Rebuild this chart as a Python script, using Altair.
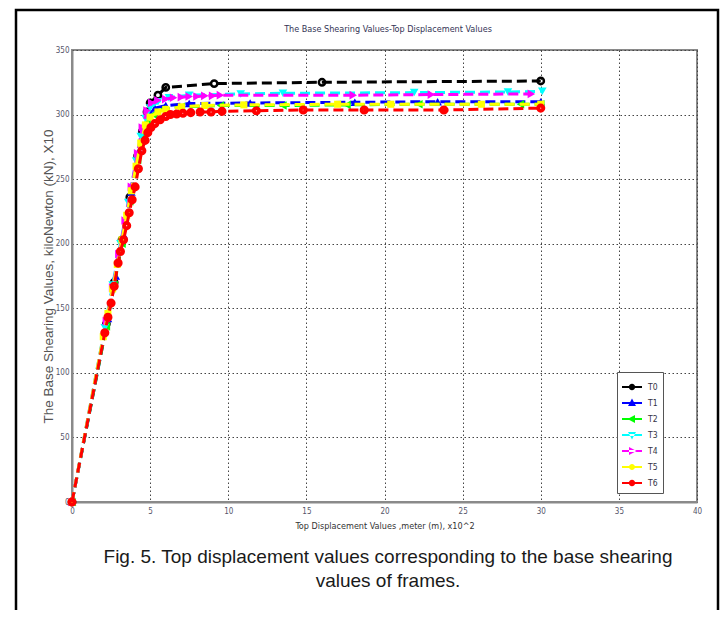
import altair as alt
import pandas as pd

# ---------------- data ----------------
series_names = ["T0", "T1", "T2", "T3", "T4", "T5", "T6"]
series_colors = ["#000000", "#0000ff", "#00ff00", "#00ffff", "#ff00ff", "#ffff00", "#ff0000"]

t0_x = [0, 2.2, 2.7, 3.2, 3.7, 4.2, 4.5, 4.8, 5.0, 5.5, 6.0, 9.1, 16.0, 30.0]
t0_y = [0, 138, 170, 203, 236, 268, 287, 302, 309, 315, 321, 324, 325, 326]

t1_x = [0, 2.3, 2.8, 3.3, 3.8, 4.3, 4.6, 4.9, 5.3, 6.0, 7.5, 11.4, 18.1, 23.4, 30.0]
t1_y = [0, 142, 175, 207, 240, 272, 290, 300, 305, 307, 308.5, 309, 309.5, 310, 310]

t2_x = [0, 2.2, 2.7, 3.2, 3.7, 4.2, 4.5, 4.8, 5.2, 5.8, 7.0, 9.5, 13.5, 17.6, 22.2, 28.7, 30.0]
t2_y = [0, 136, 168, 200, 233, 265, 283, 294, 300, 304, 306, 307, 307, 307.5, 308, 308, 308]

t3_x = [0, 2.1, 2.6, 3.1, 3.6, 4.1, 4.4, 4.7, 5.0, 5.5, 6.2, 7.5, 10.8, 13.5, 21.9, 27.9, 30.1]
t3_y = [0, 135, 168, 200, 232, 264, 283, 297, 305, 310, 313, 315, 316, 316.5, 317, 317.5, 318]

t4_x = [0, 2.2, 2.6, 3.0, 3.4, 3.8, 4.2, 4.5, 4.8, 5.1, 5.5, 6.0, 6.5, 7.0, 7.5, 8.0, 8.5, 9.0, 9.5, 18.0, 23.0, 29.4]
t4_y = [0, 140, 166, 192, 218, 244, 270, 290, 303, 309, 311, 312, 313, 313.5, 314, 314, 314.5, 314.5, 315, 315, 315.5, 316]

t5_x = [0, 2.0, 2.3, 2.6, 2.9, 3.2, 3.5, 3.8, 4.1, 4.4, 4.7, 5.0, 5.5, 6.0, 7.0, 8.5, 11.0, 17.0, 20.4, 26.2, 30.0]
t5_y = [0, 128, 146, 165, 184, 203, 222, 241, 260, 278, 292, 298, 302, 304, 306, 307, 307.5, 308, 308, 308, 308]

t6_x = [0, 2.1, 2.3, 2.5, 2.7, 2.95, 3.1, 3.3, 3.5, 3.66, 3.85, 4.04, 4.25, 4.47, 4.68, 4.85,
        5.05, 5.3, 5.64, 6.0, 6.3, 6.7, 7.1, 7.6, 8.2, 8.9, 9.6, 11.8, 14.8, 18.7, 23.8, 30.0]
t6_y = [0, 131, 143, 154, 167, 185, 194, 203, 214, 224, 234, 244, 258, 272, 280, 286,
        290, 293, 296, 298.5, 300, 300.5, 301, 301.5, 302, 302, 302.5, 303, 303.5, 303.5, 303.5, 305]

x_ticks = [0, 5, 10, 15, 20, 25, 30, 35, 40]
y_ticks = [0, 50, 100, 150, 200, 250, 300, 350]

title_text = "The Base Shearing Values-Top Displacement Values"
x_title = "Top Displacement Values ,meter (m), x10^2"
y_title = "The Base Shearing Values, kiloNewton (kN), X10"
caption_lines = [
    "Fig. 5. Top displacement values corresponding to the base shearing",
    "values of frames.",
]

all_x = [t0_x, t1_x, t2_x, t3_x, t4_x, t5_x, t6_x]
all_y = [t0_y, t1_y, t2_y, t3_y, t4_y, t5_y, t6_y]

rows = []
for name, xs, ys in zip(series_names, all_x, all_y):
    for i, (xv, yv) in enumerate(zip(xs, ys)):
        rows.append({"series": name, "x": xv, "y": yv, "idx": i})
df = pd.DataFrame(rows)
first_df = df[df["idx"] == 0].reset_index(drop=True)
one_row = pd.DataFrame({"k": [0]})

# ---------------- styles ----------------
NARROW = "Liberation Sans Narrow, DejaVu Sans Condensed, Arial Narrow, sans-serif"
SANS = "Liberation Sans, Arial, sans-serif"

marker_styles = {
    "T0": dict(shape="circle", filled=False, size=40, strokeWidth=2.5),
    "T1": dict(shape="triangle-up", filled=True, size=75),
    "T2": dict(shape="triangle-left", filled=True, size=75),
    "T3": dict(shape="triangle-down", filled=True, size=75),
    "T4": dict(shape="triangle-right", filled=True, size=75),
    "T5": dict(shape="square", filled=True, size=50),
    "T6": dict(shape="circle", filled=False, size=26, strokeWidth=4),
}

bar = "M-1,-0.11H1V0.11H-1Z"
legend_paths = [
    bar + "M0.32,0A0.32,0.32,0,1,1,-0.32,0A0.32,0.32,0,1,1,0.32,0Z",
    bar + "M0,-0.45L0.4,0.3H-0.4Z",
    bar + "M-0.45,0L0.3,-0.4V0.4Z",
    bar + "M0,0.45L0.4,-0.3H-0.4Z",
    bar + "M0.45,0L-0.3,-0.4V0.4Z",
    bar + "M0.3,0A0.3,0.3,0,1,1,-0.3,0A0.3,0.3,0,1,1,0.3,0Z",
    bar + "M0.32,0A0.32,0.32,0,1,1,-0.32,0A0.32,0.32,0,1,1,0.32,0Z",
]

x_enc = alt.X(
    "x:Q",
    scale=alt.Scale(domain=[0, 40], nice=False, zero=False),
    axis=alt.Axis(values=x_ticks, title=x_title, titleFont=NARROW, titleFontSize=9,
                  titleColor="#333333", titlePadding=6, labelPadding=5, labelFlush=False),
)
y_enc = alt.Y(
    "y:Q",
    scale=alt.Scale(domain=[0, 350], nice=False),
    axis=alt.Axis(values=y_ticks, title=y_title, titleFont=SANS, titleFontSize=13.5,
                  titleColor="#555555", titlePadding=0, labelPadding=3, labelFlush=False),
)

layers = []

# outer figure frame
frame = alt.Chart(one_row).mark_rect(filled=False, stroke="#000000", strokeWidth=2.5).encode(
    x=alt.value(-56), x2=alt.value(646), y=alt.value(-40), y2=alt.value(600)
)
layers.append(frame)

# chart title (drawn as text so the frame does not push it away)
title_layer = alt.Chart(one_row).mark_text(
    font=NARROW, fontSize=9, color="#333355", align="center", baseline="middle"
).encode(x=alt.value(316), y=alt.value(-21), text=alt.value(title_text))
layers.append(title_layer)

# hidden layer that only carries the legend
legend_layer = alt.Chart(first_df).mark_point(filled=True, opacity=0, size=1).encode(
    x=x_enc,
    y=y_enc,
    color=alt.Color("series:N", scale=alt.Scale(domain=series_names, range=series_colors),
                    legend=alt.Legend(title=None, orient="none", legendX=545, legendY=322,
                                      direction="vertical", fillColor="white",
                                      strokeColor="#555555", padding=5, rowPadding=1,
                                      symbolSize=400, symbolStrokeWidth=0,
                                      labelFont=NARROW, labelFontSize=8.5,
                                      labelColor="#333344", labelOffset=6)),
    shape=alt.Shape("series:N", scale=alt.Scale(domain=series_names, range=legend_paths)),
)
layers.append(legend_layer)

for name, color in zip(series_names, series_colors):
    sub = df[df["series"] == name]
    line = alt.Chart(sub).mark_line(color=color, strokeDash=[10, 5], strokeWidth=3).encode(
        x=x_enc, y=y_enc, order="idx:Q"
    )
    st = marker_styles[name]
    pt = alt.Chart(sub).mark_point(color=color, opacity=1, **st).encode(x=x_enc, y=y_enc)
    layers.extend([line, pt])

for i, line_text in enumerate(caption_lines):
    cap = alt.Chart(one_row).mark_text(
        font=SANS, fontSize=19, color="#1a1a1a", align="center", baseline="middle"
    ).encode(x=alt.value(316), y=alt.value(507 + 24 * i), text=alt.value(line_text))
    layers.append(cap)

chart = alt.layer(*layers).properties(
    width=625,
    height=452,
    padding={"left": 64, "top": 42, "right": 23, "bottom": 108},
    autosize=alt.AutoSizeParams(type="none"),
).configure_axis(
    grid=True,
    gridDash=[1.5, 2.5],
    gridColor="#444444",
    gridWidth=1,
    domainColor="#8a8a8a",
    domainWidth=2,
    tickSize=0,
    labelFont=NARROW,
    labelFontSize=8,
    labelColor="#55556a",
    titleFontWeight="normal",
).configure_view(
    stroke="#8a8a8a", strokeWidth=2
).configure_legend(
    symbolOpacity=1
)

chart.save("out.html", embed_options={"renderer": "svg", "actions": False})
